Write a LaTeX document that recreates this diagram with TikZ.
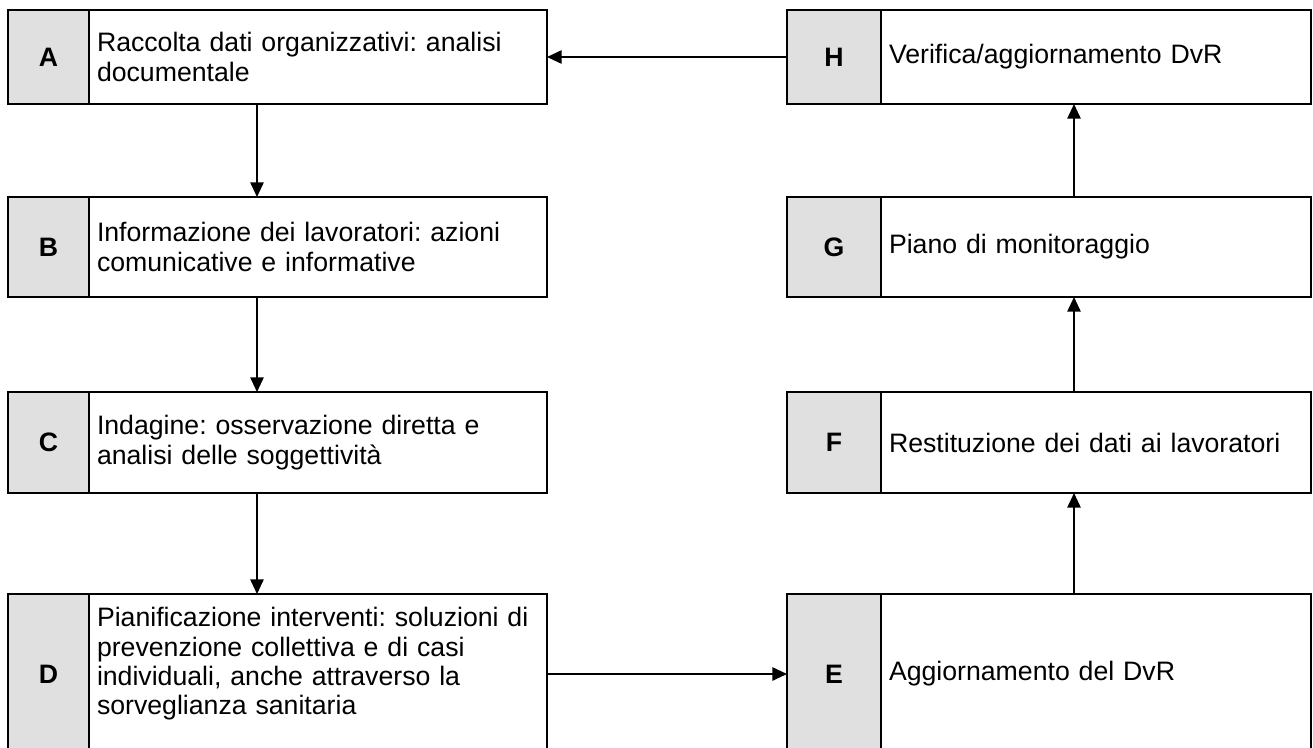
\documentclass[tikz,border=0pt]{standalone}
\usepackage{fontspec}
\setmainfont{Liberation Sans}
\usetikzlibrary{arrows.meta}
\definecolor{boxgray}{RGB}{224,224,224}
\frenchspacing
\begin{document}
\begin{tikzpicture}[x=0.75pt,y=-0.75pt,
  every node/.style={outer sep=0pt},
  txtfont/.style={font=\fontsize{20pt}{22pt}\selectfont},
  frame/.style={draw=black, line width=1.8pt, anchor=north west, inner sep=0pt},
  lgray/.style={frame, fill=boxgray, minimum width=60.75pt, font=\fontsize{20pt}{22pt}\selectfont\bfseries},
  rgray/.style={frame, fill=boxgray, minimum width=70.5pt, font=\fontsize{20pt}{22pt}\selectfont\bfseries},
  ltext/.style={frame, fill=white, inner xsep=6pt, text width=331.5pt, align=left, txtfont},
  rtext/.style={frame, fill=white, inner xsep=6pt, text width=310.5pt, align=left, txtfont},
  plaintext/.style={inner xsep=6pt, inner ysep=0pt, text width=331.5pt, align=left, anchor=west, txtfont},
  arr/.style={line width=1.3pt, -{Triangle[length=11pt,width=10pt]}}
]
\useasboundingbox (0,0) rectangle (1313,747);
% left column
\node[lgray, minimum height=70.5pt] (Ag) at (8,10) {A};
\node[ltext, minimum height=70.5pt] (A) at (89,10) {Raccolta dati organizzativi: analisi\\documentale};
\node[lgray, minimum height=75pt] (Bg) at (8,197) {B};
\node[ltext, minimum height=75pt] (B) at (89,197) {Informazione dei lavoratori: azioni\\comunicative e informative};
\node[lgray, minimum height=75.75pt] (Cg) at (8,392) {C};
\node[ltext, minimum height=75.75pt] (C) at (89,392) {Indagine: osservazione diretta e\\analisi delle soggettività};
\node[lgray, minimum height=120pt] (Dg) at (8,594) {D};
\node[ltext, minimum height=120pt] (D) at (89,594) {};
\node[plaintext] (Dt) at ([yshift=7.5pt]D.west) {Pianificazione interventi: soluzioni di\\prevenzione collettiva e di casi\\individuali, anche attraverso la\\sorveglianza sanitaria};
% right column
\node[rgray, minimum height=70.5pt] (Hg) at (787,10) {H};
\node[rtext, minimum height=70.5pt] (H) at (881,10) {Verifica/aggiornamento DvR};
\node[rgray, minimum height=75pt] (Gg) at (787,197) {G};
\node[rtext, minimum height=75pt] (G) at (881,197) {Piano di monitoraggio};
\node[rgray, minimum height=75.75pt] (Fg) at (787,392) {F};
\node[rtext, minimum height=75.75pt] (F) at (881,392) {Restituzione dei dati ai lavoratori};
\node[rgray, minimum height=120pt] (Eg) at (787,594) {E};
\node[rtext, minimum height=120pt] (E) at (881,594) {Aggiornamento del DvR};
% connectors
\coordinate (lx) at (257,0);
\coordinate (rx) at (1074,0);
\draw[arr] (A.south -| lx) -- (B.north -| lx);
\draw[arr] (B.south -| lx) -- (C.north -| lx);
\draw[arr] (C.south -| lx) -- (D.north -| lx);
\draw[arr] (D.east) -- (Eg.west);
\draw[arr] (E.north -| rx) -- (F.south -| rx);
\draw[arr] (F.north -| rx) -- (G.south -| rx);
\draw[arr] (G.north -| rx) -- (H.south -| rx);
\draw[arr] (Hg.west) -- (A.east);
\end{tikzpicture}
\end{document}
